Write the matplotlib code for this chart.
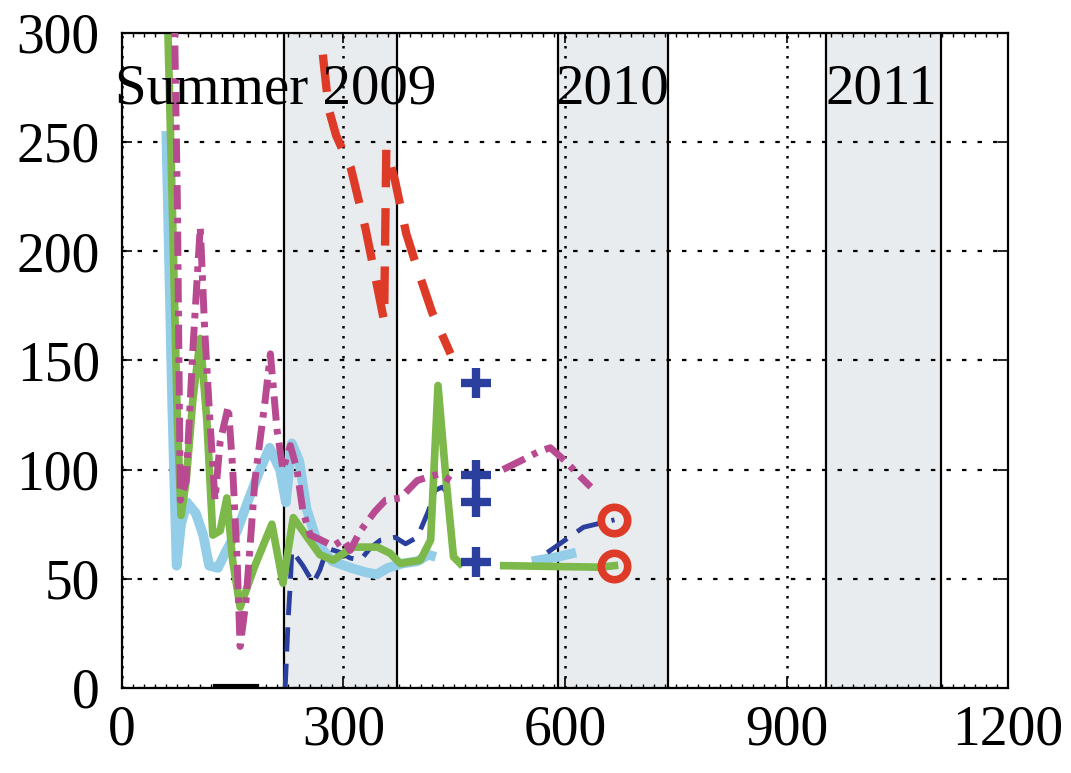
import numpy as np
import matplotlib
matplotlib.use("Agg")
import matplotlib.pyplot as plt
from matplotlib.ticker import MultipleLocator

nan = np.nan

# season boundaries (days) and labels
season_edges = [220, 373, 590, 740, 953, 1109]
season_labels = ["Summer 2009", "2010", "2011"]
label_x = [-10, 587, 953]

# light blue solid
lb_x = [60, 68, 74, 80, 88, 100, 110, 118, 130, 140, 156, 170, 187, 200, 214, 222, 230, 240,
        250, 265, 285, 310, 330, 345, 360, 380, 400, 415, 425, nan, 555, 590, 615]
lb_y = [255, 130, 56, 75, 85, 80, 70, 56, 55, 62, 72, 85, 100, 110, 100, 85, 112, 104,
        82, 66, 58, 55, 53, 52, 55, 57, 58, 61, 60, nan, 58, 60, 62]

# dark blue dashed
bl_x = [221, 225, 228, 230, 245, 259, 268, 278, 296, 309, 323, 336, 350, 370, 384, 400, 415,
        424, 434, 449, nan, 576, 625, 667]
bl_y = [0, 31, 48, 63, 56, 48, 54, 64, 62, 59.5, 58.5, 64, 67.7, 69, 66, 69, 81,
        90.5, 92, 86, nan, 62, 73.6, 77]

# green solid
gr_x = [60, 68, 75, 80, 87, 96, 106, 115, 123, 133, 142, 150, 160, 180, 203, 218, 232, 251,
        268, 286, 313, 346, 363, 377, 404, 418, 428, 439, 449, 458, nan, 517, 648, 667]
gr_y = [330, 223, 122, 79, 95, 132, 160, 122, 70, 72, 87, 58, 37, 56, 75, 48, 78, 69,
        61, 58.5, 64.5, 64.5, 61.7, 57, 58.5, 67.7, 138.5, 95, 60, 57, nan, 56, 55.3, 56]

# magenta dash-dot
mg_x = [70, 75, 79, 87, 96, 106, 112, 119, 126, 133, 144, 150, 156, 160, 168, 180, 194, 201,
        210, 218, 228, 237, 245, 255, 268, 286, 300, 309, 323, 343, 357, 377, 400, 418, 431,
        445, nan, 516, 540, 563, 580, 600, 620, 635]
mg_y = [330, 223, 86, 95, 155, 211, 164, 123, 86, 113, 129, 100, 58, 19, 40, 95, 132, 153,
        118, 100, 111, 100, 81, 70, 68, 65, 68, 63, 72, 81, 86, 87, 95, 97, 98,
        95, nan, 100, 104, 108, 110, 104, 97, 92]

# red dashed
rd_x = [272, 280, 290, 310, 330, 345, 355, 358, 370, 385, 400, 420, 445]
rd_y = [290, 265, 253, 238, 210, 185, 168, 247, 232, 208, 192, 172, 153]

# black flat piece near zero
bk_x = [126, 183]
bk_y = [1, 1]

# markers
plus_x = [479, 479, 479, 479]
plus_y = [139.5, 97.5, 85, 57.6]
circ_x = [667, 667]
circ_y = [77, 56]

plt.rcParams['font.family'] = ['Liberation Serif', 'DejaVu Serif']

fig = plt.figure(figsize=(10.71, 7.73), dpi=100)
ax = fig.add_axes([0.1139, 0.110, 0.8273, 0.8476])
ax.set_axisbelow('line')

# shaded winters
for a, b in zip(season_edges[0::2], season_edges[1::2]):
    ax.axvspan(a, b, color='#e9ecef', zorder=0.5, lw=0)
for e in season_edges:
    ax.axvline(e, color='black', lw=1.6, zorder=1.6)

ax.plot(lb_x, lb_y, color='#93cde8', lw=7, solid_capstyle='butt', zorder=2)
ax.plot(bl_x, bl_y, color='#2a3f9e', lw=3.5, dashes=(5, 2.5), zorder=2.2)
ax.plot(gr_x, gr_y, color='#7cb84a', lw=5.5, zorder=2.4)
ax.plot(mg_x, mg_y, color='#b84a92', lw=5, dashes=(3.5, 1.2, 0.8, 1.2), zorder=2.6)
ax.plot(rd_x, rd_y, color='#dd3b27', lw=6, dashes=(4.5, 2.5), zorder=2.8)
ax.plot(bk_x, bk_y, color='black', lw=3, zorder=2.8)

ax.plot(plus_x, plus_y, linestyle='none', marker='+', ms=22, mew=6,
        color='#2a3f9e', zorder=3)
ax.plot(circ_x, circ_y, linestyle='none', marker='o', ms=19, mew=5.5,
        mec='#dd3b27', mfc='none', zorder=3)

for t, xx in zip(season_labels, label_x):
    ax.text(xx, 274, t, fontsize=41, ha='left', va='center', zorder=4)

ax.set_xlim(0, 1200)
ax.set_ylim(0, 300)
ax.set_xticks([0, 300, 600, 900, 1200])
ax.set_yticks([0, 50, 100, 150, 200, 250, 300])
ax.xaxis.set_minor_locator(MultipleLocator(15))
ax.tick_params(which='major', direction='in', length=7, width=1.2, top=True, right=True,
               labelsize=40)
ax.tick_params(axis='y', pad=16)
ax.tick_params(axis='x', pad=12)
ax.tick_params(which='minor', direction='in', length=3, width=1, top=True, bottom=True)
ax.grid(axis='y', color='black', lw=1.6, linestyle=(0, (2, 5)))
ax.grid(axis='x', color='black', lw=1.8, linestyle=(0, (1, 3)))
for s in ax.spines.values():
    s.set_linewidth(1.6)

fig.savefig('out.png', dpi=100)
